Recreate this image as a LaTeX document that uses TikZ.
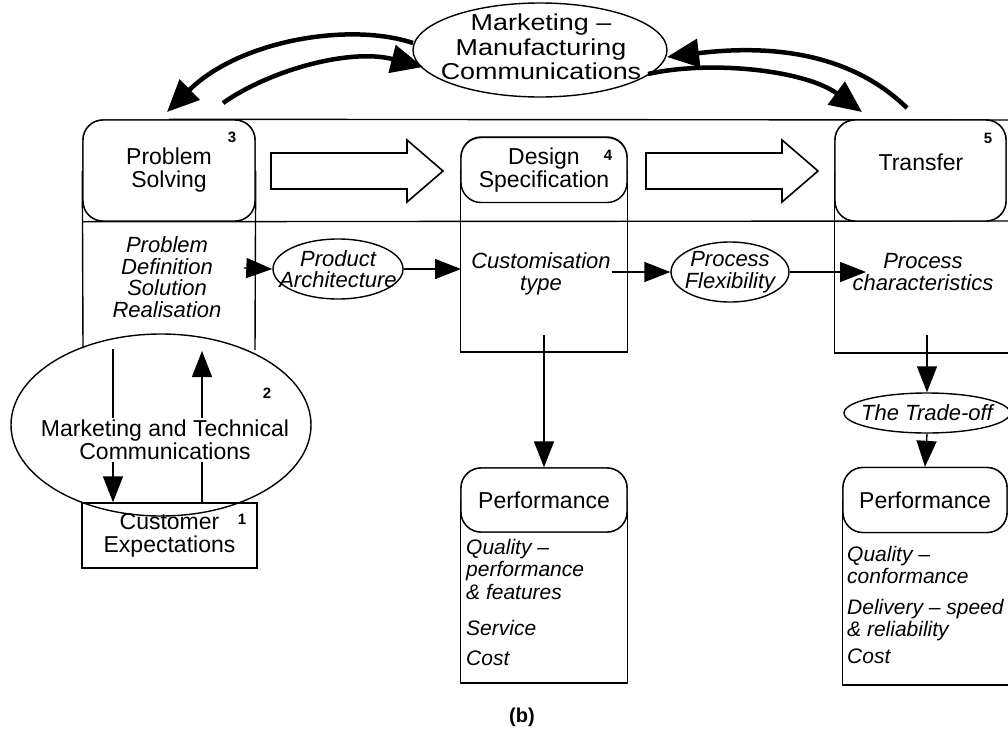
\documentclass[tikz,border=0pt]{standalone}
\usepackage{fontspec}
\setmainfont{Liberation Sans}
\newfontfamily\widesans[FakeStretch=1.17]{Liberation Sans}
\usetikzlibrary{shapes.geometric,arrows.meta}
\begin{document}
\begin{tikzpicture}[x=1pt,y=-1pt,
  txt/.style={font=\fontsize{23}{23}\selectfont, align=center, inner sep=0pt},
  itx/.style={font=\fontsize{22}{21.5}\selectfont\itshape, align=center, inner sep=0pt},
  lst/.style={font=\fontsize{21}{22.5}\selectfont\itshape, align=left, inner sep=0pt, anchor=north west},
  num/.style={font=\fontsize{15}{15}\selectfont\bfseries, inner sep=0pt},
  thin/.style={line width=1.4pt, line join=miter},
  rbox/.style={draw, line width=1.4pt, rectangle, rounded corners=20pt, fill=white},
  sbox/.style={draw, line width=1.4pt, rectangle, fill=white},
  oval/.style={draw, line width=1.4pt, ellipse, inner sep=0pt},
  con/.style={line width=1.4pt, -{Triangle[length=26pt,width=20pt]}},
  arc/.style={line width=4.5pt, -{Triangle[length=32pt,width=28pt]}},
  hollow/.style={draw, line width=1.6pt, line join=miter, fill=white},
]
\useasboundingbox (0,0) rectangle (1008,744);
\clip (0,0) rectangle (1008,744);

% ---- reference points for open column outlines and free arrow ends
\coordinate (bandR1) at (1012,120);
\coordinate (bandR2) at (1012,221);
\coordinate (lcbl) at (83,348);
\coordinate (lcbr) at (255,350);
\coordinate (mcb) at (544,352);
\coordinate (rcb) at (1012,353);
\coordinate (p1b) at (544,683);
\coordinate (p2b) at (1012,685);

% ---- stage boxes (outlines first, rounded heads on top)
\node[rbox, minimum width=172, minimum height=101] (ps) at (169,170.5) {};
\node[rbox, minimum width=166, minimum height=65] (ds) at (544,169.5) {};
\node[rbox, minimum width=171, minimum height=101] (tr) at (920.5,170.5) {};
\draw[thin] (ps.west) -- (lcbl);
\draw[thin] (ps.east) -- (lcbr);
\draw[thin] (ds.west) |- (mcb) -| (ds.east);
\draw[thin] (tr.west) |- (rcb);
\draw[thin] (ps.north) -- (bandR1);
\draw[thin] (ps.south west) -- (bandR2);
\node[rbox, minimum width=172, minimum height=101, txt] (ps) at (169,170.5) {Problem\\Solving};
\node[rbox, minimum width=166, minimum height=65, txt] (ds) at (544,170) {Design\\Specification};
\node[rbox, minimum width=171, minimum height=101] (tr) at (920.5,170.5) {};
\node[txt] (trt) at (921,162) {Transfer};
\node[num] (n3) at (232,137) {3};
\node[num] (n4) at (608,155) {4};
\node[num] (n5) at (988,138) {5};

% ---- hollow flow arrows between the stages
\draw[hollow] (271,153) -- (407,153) -- (407,140) -- (443,171) -- (407,202) -- (407,189) -- (271,189) -- cycle;
\draw[hollow] (646,153) -- (782,153) -- (782,140) -- (818,171) -- (782,202) -- (782,189) -- (646,189) -- cycle;

% ---- middle row
\node[itx] (pd) at (167,277) {Problem\\Definition\\Solution\\Realisation};
\coordinate (pdo) at (244,268);
\node[oval, minimum width=130, minimum height=60] (pa) at (338,269) {};
\node[itx] (pat) at (338,269) {Product\\Architecture};
\coordinate (mci) at (461,269);
\node[itx] (ct) at (541,274) {Customisation\\type};
\coordinate (cto) at (612,272);
\node[oval, minimum width=118, minimum height=60] (pf) at (730,272) {};
\node[itx] (pft) at (730,272) {Process\\Flexibility};
\coordinate (pci) at (866,272);
\node[itx] (pc) at (923,272) {Process\\characteristics};
\draw[con] (pdo) -- (pa.west);
\draw[con] (pa.east) -- (mci);
\draw[con] (cto) -- (pf.west);
\draw[con] (pf.east) -- (pci);

% ---- performance columns
\node[rbox, minimum width=166, minimum height=64] (perf1) at (544,500) {};
\node[rbox, minimum width=164, minimum height=65] (perf2) at (925,500) {};
\draw[thin] (perf1.west) |- (p1b) -| (perf1.east);
\draw[thin] (perf2.west) |- (p2b);
\node[rbox, minimum width=166, minimum height=64, txt] (perf1) at (544,500) {Performance};
\node[rbox, minimum width=164, minimum height=65, txt] (perf2) at (925,500) {Performance};
\node[lst] (q1) at (466,539) {Quality –\\performance\\\& features};
\node[lst] (s1) at (466,620) {Service};
\node[lst] (c1) at (466,651) {Cost};
\node[lst] (q2) at (847,546) {Quality –\\conformance};
\node[lst] (d2) at (847,599) {Delivery – speed\\\& reliability};
\node[lst] (c2) at (847,649) {Cost};

\node[oval, minimum width=166, minimum height=40] (to) at (927,413) {};
\node[itx] (tot) at (927,413) {The Trade-off};
\coordinate (mdo) at (544,335);
\coordinate (rdo) at (927,335);
\draw[con] (mdo) -- (perf1.north);
\draw[con] (rdo) -- (to.north);
\draw[con] (to.south) -- (perf2.north);

% ---- customer side
\node[sbox, minimum width=175, minimum height=65] (ce) at (169.5,535.5) {};
\node[txt] (cet) at (169.5,535) {Customer\\Expectations};
\node[num] (n1) at (242,519) {1};
\coordinate (dl) at (113,349);
\coordinate (ul) at (202,351);
\draw[con] (dl) -- (dl |- ce.north);
\draw[con] (ul |- ce.north) -- (ul);
\node[txt, fill=white, inner sep=2pt] (mtct) at (165,440) {Marketing and Technical\\Communications};
\node[oval, minimum width=300, minimum height=182] (mtc) at (161,425) {};
\node[num] (n2) at (267,393) {2};

% ---- marketing / manufacturing link
\node[oval, minimum width=254, minimum height=94] (mm) at (540,50) {};
\node[align=center, inner sep=0pt, font=\widesans\fontsize{23}{24.5}\selectfont] (mmt) at (541,47) {Marketing –\\Manufacturing\\Communications};
\coordinate (a1s) at (413,43);
\coordinate (a1e) at (167,112);
\coordinate (a2s) at (223,103);
\coordinate (a2e) at (423,67);
\coordinate (a3s) at (907,108);
\coordinate (a3e) at (667,57);
\coordinate (a4s) at (648,74);
\coordinate (a4e) at (862,112);
\draw[arc] (a1s) .. controls (350,22) and (240,40) .. (a1e);
\draw[arc] (a2s) .. controls (270,70) and (350,48) .. (a2e);
\draw[arc] (a3s) .. controls (860,62) and (790,42) .. (a3e);
\draw[arc] (a4s) .. controls (710,60) and (805,70) .. (a4e);

\node[font=\fontsize{20}{20}\selectfont\bfseries, inner sep=0pt] (lbl) at (522,717) {(b)};
\end{tikzpicture}
\end{document}
